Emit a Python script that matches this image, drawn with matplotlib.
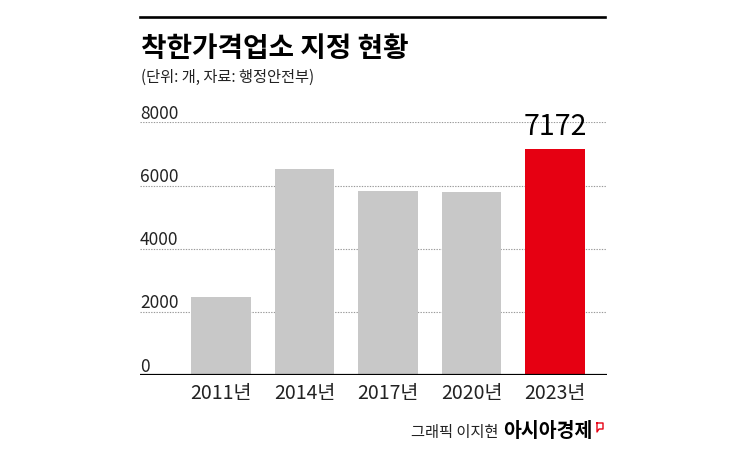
import matplotlib.pyplot as plt
from matplotlib.lines import Line2D

# data
years = ['2011년', '2014년', '2017년', '2020년', '2023년']
counts = [2470, 6520, 5825, 5790, 7172]
yticks = [0, 2000, 4000, 6000, 8000]

KR = 'Noto Sans CJK KR'
NUM = ['Liberation Sans Narrow', 'Noto Sans CJK KR']
GRAY = '#c8c8c8'
RED = '#e60012'

fig = plt.figure(figsize=(7.45, 4.65), dpi=100)
ax = fig.add_axes([140 / 745, 90 / 465, 466.7 / 745, 252.5 / 465])

colors = [GRAY] * (len(counts) - 1) + [RED]
x = range(len(years))
ax.bar(x, counts, width=0.71, color=colors, zorder=2)

ax.set_xlim(-0.97, 4.62)
ax.set_ylim(0, 8000)

# dotted gridlines, solid baseline
for v in yticks[1:]:
    ax.axhline(v, color='#999999', linestyle=(0, (1.2, 1.2)), linewidth=0.8, zorder=1)
ax.axhline(0, color='black', linewidth=1.6, zorder=3)

for s in ax.spines.values():
    s.set_visible(False)
ax.set_yticks([])
ax.set_xticks(list(x))
ax.set_xticklabels(years, family=NUM, fontsize=14, color='#222222')
ax.tick_params(axis='x', length=0, pad=6)

# y labels sit above gridlines at the left edge
for v in yticks:
    ax.annotate(str(v), xy=(0, v), xycoords=('axes fraction', 'data'),
                xytext=(0, 2.5), textcoords='offset points',
                ha='left', va='baseline', family=NUM, fontsize=12.5, color='#222222')

# value label on the last bar
ax.annotate(f'{counts[-1]}', xy=(len(counts) - 1, counts[-1]), xytext=(0, 5),
            textcoords='offset points', ha='center', va='bottom',
            family=NUM, fontsize=20.5, color='black', annotation_clip=False)

# header
fig.add_artist(Line2D([140 / 745, 605 / 745], [1 - 17 / 465, 1 - 17 / 465],
                      color='black', linewidth=1.9))
fig.text(141 / 745, 1 - 57 / 465, '착한가격업소 지정 현황', family=KR,
         fontsize=20, fontweight='black', va='baseline', ha='left')
fig.text(141 / 745, 1 - 82 / 465, '(단위: 개, 자료: 행정안전부)', family=KR,
         fontsize=11, va='baseline', ha='left', color='#222222')

# credit
fig.text(593 / 745, 1 - 437 / 465, '아시아경제', family=KR, fontsize=14,
         fontweight='black', va='baseline', ha='right')
fig.text(498 / 745, 1 - 437 / 465, '그래픽 이지현', family=KR, fontsize=11,
         va='baseline', ha='right', color='#222222')
ix = [597, 603, 603, 599, 597, 597]
iy = [423, 423, 429, 429, 432, 423]
fig.add_artist(Line2D([v / 745 for v in ix], [1 - v / 465 for v in iy],
                      color=RED, linewidth=1.0))

fig.savefig('out.png', dpi=100)
